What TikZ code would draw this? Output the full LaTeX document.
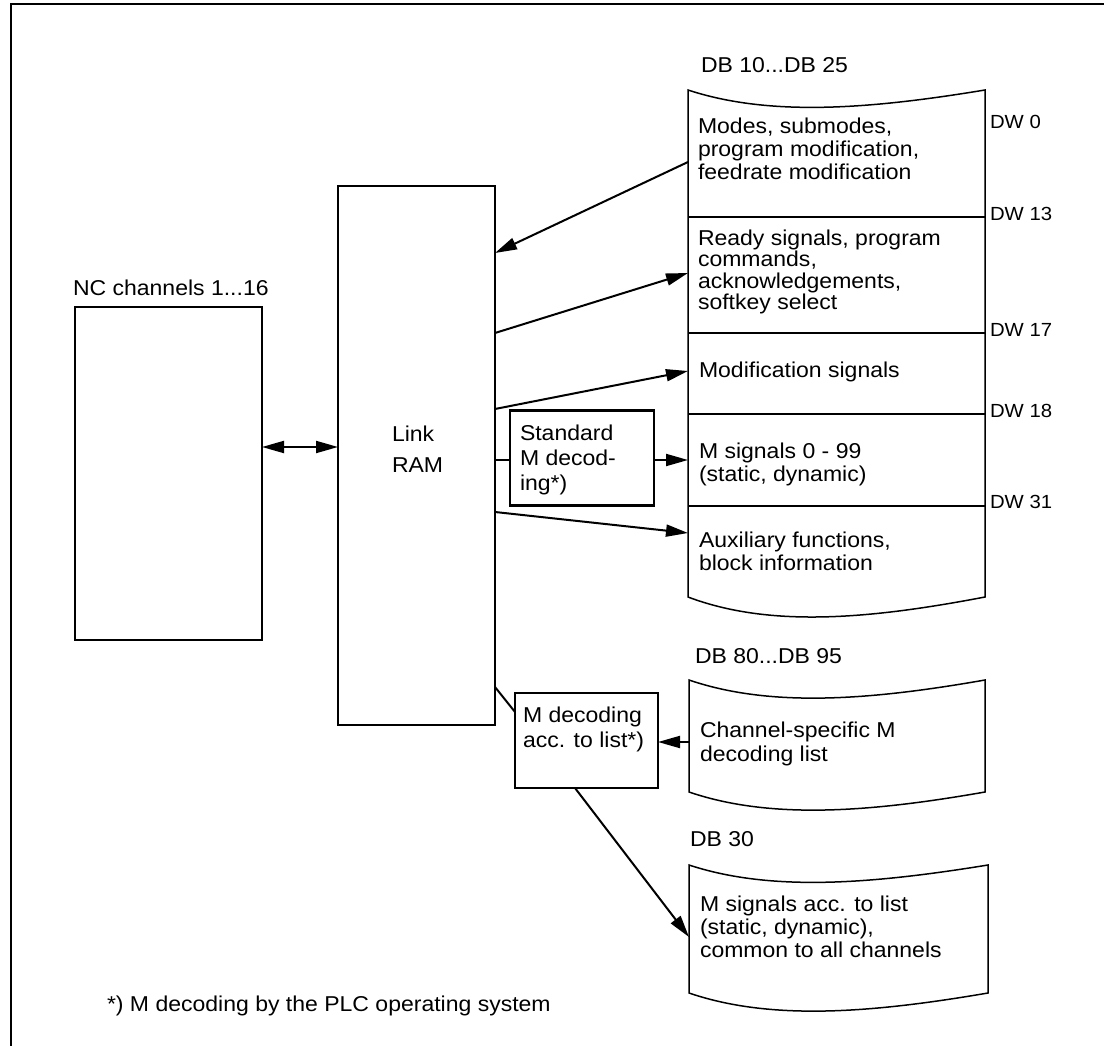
\documentclass[tikz,border=0pt]{standalone}
\usepackage{fontspec}
\setmainfont{Liberation Sans}[FakeStretch=1.07]
\usetikzlibrary{arrows.meta}
\begin{document}
\begin{tikzpicture}[x=1pt,y=-1pt,
  every node/.style={inner sep=0pt,outer sep=0pt},
  body/.style={font=\fontsize{21.5}{23}\selectfont},
  txt/.style={body,anchor=base west},
  blk/.style={body,align=left,anchor=north west},
  dw/.style={font=\fontsize{19}{20}\selectfont,anchor=base west},
  heavybox/.style={draw,line width=2.6pt,minimum width=#1},
  dbline/.style={line width=1.5pt},
  conn/.style={line width=2pt},
  arr/.style={conn,-{Triangle[length=22pt,width=12pt]}},
  darr/.style={conn,{Triangle[length=22pt,width=12pt]}-{Triangle[length=22pt,width=12pt]}}
]
\useasboundingbox (0,0) rectangle (1104,1046);

% outer frame
\draw[line width=1.7pt] (11,1060) -- (11,4) -- (1120,4);

% heavy boxes
\node[heavybox=187pt,minimum height=333pt] (nc) at (168.5,473.5) {};
\node[heavybox=157pt,minimum height=539pt] (link) at (416.5,455.5) {};
\node[heavybox=144pt,minimum height=95pt] (std) at (582,458) {};
\node[heavybox=143pt,minimum height=95pt] (mdec) at (586.5,740.5) {};

% DB 10...DB 25 with its sections
\draw[dbline] (688,90) .. controls (770,117) and (870,109) .. (985,90)
  -- (985,597) .. controls (870,619) and (770,628) .. (688,597) -- cycle;
\draw[dbline] (688,217) -- (985,217);
\draw[dbline] (688,333) -- (985,333);
\draw[dbline] (688,414) -- (985,414);
\draw[dbline] (688,506) -- (985,506);

% DB 80...DB 95
\draw[dbline] (689,680) .. controls (771,708) and (871,700) .. (985,680)
  -- (985,792) .. controls (871,812) and (771,820) .. (689,792) -- cycle;

% DB 30
\draw[dbline] (689,865) .. controls (771,892) and (871,884) .. (988,865)
  -- (988,993) .. controls (871,1013) and (771,1021) .. (689,993) -- cycle;

% connector ends on the data blocks
\coordinate (sModes) at (688,162);
\coordinate (sReady) at (688,273);
\coordinate (sModif) at (688,371);
\coordinate (sMsig)  at (688,460);
\coordinate (sAux)   at (688,533);
\coordinate (sList)  at (689,742);
\coordinate (sDB30)  at (689,937);
\coordinate (mdecout) at (575,788);

% connectors
\draw[darr] (nc.east |- 0,447) -- (link.west |- 0,447);
\draw[arr] (sModes) -- (link.east |- 0,253);
\draw[arr] (link.east |- 0,333) -- (sReady);
\draw[arr] (link.east |- 0,409) -- (sModif);
\draw[conn] (link.east |- 0,460) -- (std.west |- 0,460);
\draw[arr] (std.east |- 0,460) -- (sMsig);
\draw[arr] (link.east |- 0,512) -- (sAux);
\draw[conn] (link.east |- 0,687) -- (mdec.west |- 0,712);
\draw[arr] (sList) -- (mdec.east |- 0,742);
\draw[arr] (mdecout) -- (sDB30);

% texts
\node[txt] (ncl) at (73,295) {NC channels 1...16};
\node[body,align=left,anchor=north west,
      font=\fontsize{21.5}{31}\selectfont] (linkt) at (392,425.5) {Link\\RAM};
\node[blk,font=\fontsize{21.5}{25}\selectfont] (stdt) at (520,424.5) {Standard\\M decod-\\ing*)};
\node[blk,font=\fontsize{21.5}{25}\selectfont] (mdect) at (523,706.5) {M decoding\\acc. to list*)};

\node[txt] (db10) at (701,73) {DB 10...DB 25};
\node[blk] (t1) at (698,117.5) {Modes, submodes,\\program modification,\\feedrate modification};
\node[blk,font=\fontsize{21.5}{21.5}\selectfont] (t2) at (698,229.5) {Ready signals, program\\commands,\\acknowledgements,\\softkey select};
\node[txt] (t3) at (699,377) {Modification signals};
\node[blk] (t4) at (699,442.5) {M signals 0 - 99\\(static, dynamic)};
\node[blk] (t5) at (699,531.5) {Auxiliary functions,\\block information};

\node[dw] (dw0) at (990,129) {DW 0};
\node[dw] (dw13) at (990,220) {DW 13};
\node[dw] (dw17) at (990,336) {DW 17};
\node[dw] (dw18) at (990,417) {DW 18};
\node[dw] (dw31) at (990,508) {DW 31};

\node[txt] (db80) at (695,663) {DB 80...DB 95};
\node[blk,font=\fontsize{21.5}{24}\selectfont] (t6) at (700,721.5) {Channel-specific M\\decoding list};

\node[txt] (db30) at (690,846) {DB 30};
\node[blk] (t7) at (700,895.5) {M signals acc. to list\\(static, dynamic),\\common to all channels};

\node[txt] (foot) at (107,1011) {*) M decoding by the PLC operating system};
\end{tikzpicture}
\end{document}
